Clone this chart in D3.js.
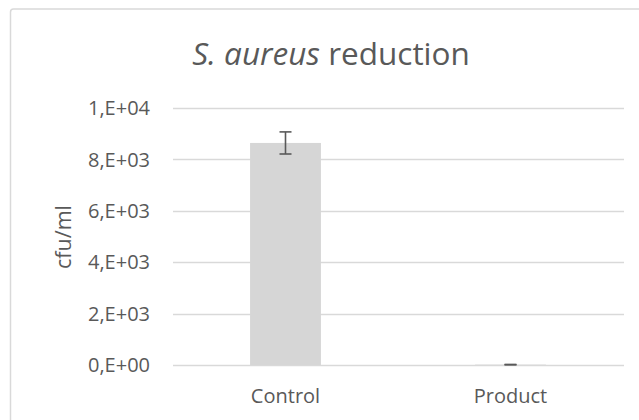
<!DOCTYPE html>
<html><head><meta charset="utf-8">
<script src="https://cdn.jsdelivr.net/npm/d3@7"></script>
<style>body{margin:0;background:#fff}svg{display:block}text{font-family:"Open Sans",sans-serif;fill:#595959}</style>
</head><body>
<svg id="c" width="639" height="420"></svg>
<script>
const categories = ["Control", "Product"];
const values = [8640, 15];
const errors = [430, 5];
const yTicks = [0, 2000, 4000, 6000, 8000, 10000];
const yTickLabels = ["0,E+00", "2,E+03", "4,E+03", "6,E+03", "8,E+03", "1,E+04"];

const svg = d3.select("#c");
svg.append("rect").attr("x", 10.5).attr("y", 9).attr("width", 700).attr("height", 500)
  .attr("rx", 3).attr("fill", "#fff").attr("stroke", "#d9d9d9").attr("stroke-width", 1.5);

const x = d3.scaleBand().domain(categories).range([173, 623]).paddingInner(0.685).paddingOuter(0.3425);
const y = d3.scaleLinear().domain([0, 10000]).range([365, 108]);

// gridlines
svg.append("g").selectAll("line").data(yTicks).join("line")
  .attr("x1", 173).attr("x2", 624).attr("y1", d => Math.round(y(d)) + 0.5).attr("y2", d => Math.round(y(d)) + 0.5)
  .attr("stroke", "#d9d9d9").attr("stroke-width", 1.5);

// y tick labels
svg.append("g").selectAll("text").data(yTicks).join("text")
  .attr("x", 150).attr("y", d => y(d)).attr("dy", "0.36em").attr("text-anchor", "end")
  .attr("font-size", 20).text((d, i) => yTickLabels[i]);

// bars
svg.append("g").selectAll("rect").data(categories).join("rect")
  .attr("x", d => x(d)).attr("width", x.bandwidth())
  .attr("y", (d, i) => y(values[i])).attr("height", (d, i) => y(0) - y(values[i]))
  .attr("fill", "#d6d6d6");

// error bars
const eb = svg.append("g").attr("stroke", "#595959").attr("stroke-width", 1.6).attr("fill", "none");
categories.forEach((c, i) => {
  const cx = x(c) + x.bandwidth() / 2;
  const y1 = y(values[i] + errors[i]), y2 = y(values[i] - errors[i]);
  eb.append("line").attr("x1", cx).attr("x2", cx).attr("y1", y1).attr("y2", y2);
  eb.append("line").attr("x1", cx - 6).attr("x2", cx + 6).attr("y1", y1).attr("y2", y1);
  eb.append("line").attr("x1", cx - 6).attr("x2", cx + 6).attr("y1", y2).attr("y2", y2);
});

// x labels
svg.append("g").selectAll("text").data(categories).join("text")
  .attr("x", d => x(d) + x.bandwidth() / 2).attr("y", 403).attr("text-anchor", "middle")
  .attr("font-size", 20).text(d => d);

// y axis title
svg.append("text").attr("transform", "translate(71,237) rotate(-90)").attr("text-anchor", "middle")
  .attr("font-size", 21.5).text("cfu/ml");

// chart title
const t = svg.append("text").attr("x", 331).attr("y", 65).attr("text-anchor", "middle").attr("font-size", 31.5);
t.append("tspan").attr("font-style", "italic").text("S. aureus");
t.append("tspan").text(" reduction");
</script>
</body></html>
